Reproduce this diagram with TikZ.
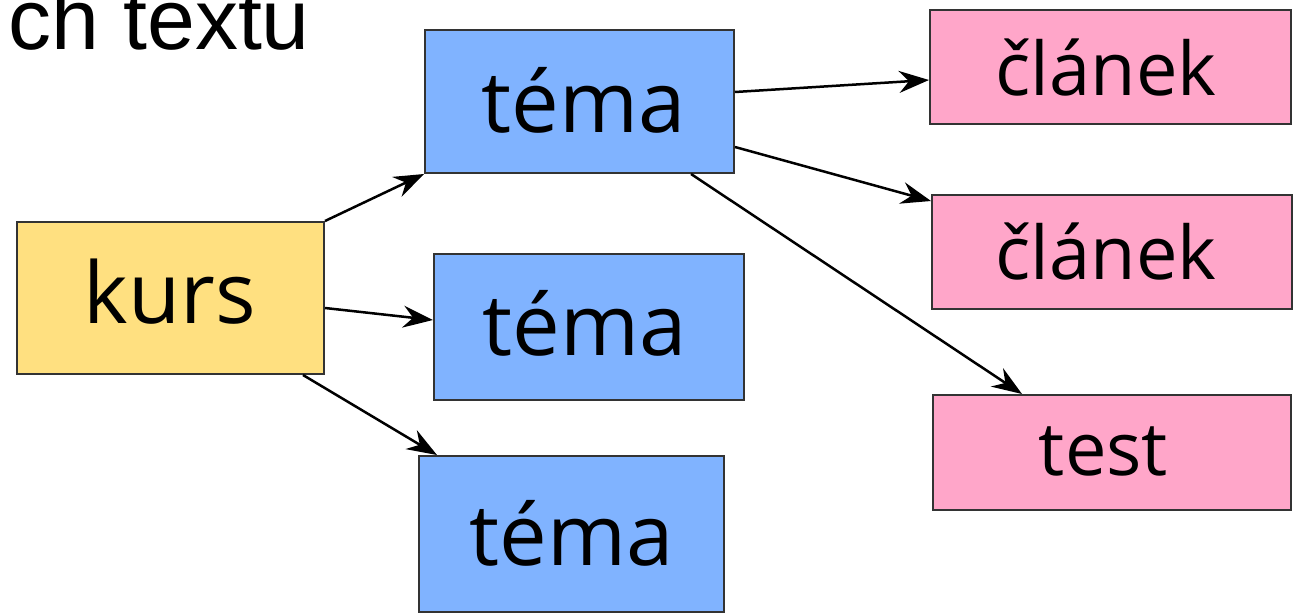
\documentclass[tikz,border=0pt]{standalone}
\usepackage{fontspec}
\setmainfont{Open Sans}
\newfontfamily\arialf{Liberation Sans}
\usetikzlibrary{arrows.meta}
\definecolor{kblue}{HTML}{80B3FF}
\definecolor{kyellow}{HTML}{FFE080}
\definecolor{kpink}{HTML}{FFA6C9}
\definecolor{kedge}{HTML}{333333}
\tikzset{
  box/.style={draw=kedge, line width=2pt, inner sep=0pt, anchor=center},
  kursbox/.style={box, fill=kyellow},
  temabox/.style={box, fill=kblue},
  pinkbox/.style={box, fill=kpink},
  bigtxt/.style={anchor=base, inner sep=0pt, font=\fontsize{85}{95}\selectfont},
  smalltxt/.style={anchor=base, inner sep=0pt, font=\fontsize{74}{84}\selectfont},
  conn/.style={line width=2.5pt, -{Stealth[length=30pt,width=22pt,inset=10pt]}}
}
\begin{document}
\begin{tikzpicture}[x=1pt,y=1pt]
\useasboundingbox (0,0) rectangle (1298,-613);
\node[anchor=base west, font=\arialf\fontsize{86}{96}\selectfont, inner sep=0pt] (title) at (8.5,-49.5) {ch textu};
\node[kursbox, minimum width=307pt, minimum height=152pt] (kurs) at (170.5,-298) {};
\node[temabox, minimum width=309pt, minimum height=143pt] (t1) at (579.5,-101.5) {};
\node[temabox, minimum width=310pt, minimum height=146pt] (t2) at (589,-327) {};
\node[temabox, minimum width=305pt, minimum height=156pt] (t3) at (571.5,-534) {};
\node[pinkbox, minimum width=361pt, minimum height=114pt] (c1) at (1110.5,-67) {};
\node[pinkbox, minimum width=360pt, minimum height=114pt] (c2) at (1112,-252) {};
\node[pinkbox, minimum width=358pt, minimum height=115pt] (ts) at (1112,-452.5) {};
\node[bigtxt] (kurstxt) at (170,-323) {kurs};
\node[bigtxt] (t1txt) at (583.5,-132) {téma};
\node[bigtxt] (t2txt) at (584.5,-355) {téma};
\node[bigtxt] (t3txt) at (571.5,-565) {téma};
\node[smalltxt] (c1txt) at (1106,-95) {článek};
\node[smalltxt] (c2txt) at (1106,-279) {článek};
\node[smalltxt] (tstxt) at (1103.5,-475) {test};
\draw[conn] (kurs.north east) -- (t1.south west);
\draw[conn] ([yshift=-10pt]kurs.east) -- ([yshift=7pt]t2.west);
\draw[conn] ([xshift=-22pt]kurs.south east) -- ([xshift=19pt]t3.north west);
\draw[conn] ([yshift=9.5pt]t1.east) -- ([yshift=-13pt]c1.west);
\draw[conn] ([yshift=-45.5pt]t1.east) -- ([yshift=-7pt]c2.north west);
\draw[conn] ([xshift=-44pt]t1.south east) -- ([xshift=-90pt]ts.north);
\end{tikzpicture}
\end{document}
